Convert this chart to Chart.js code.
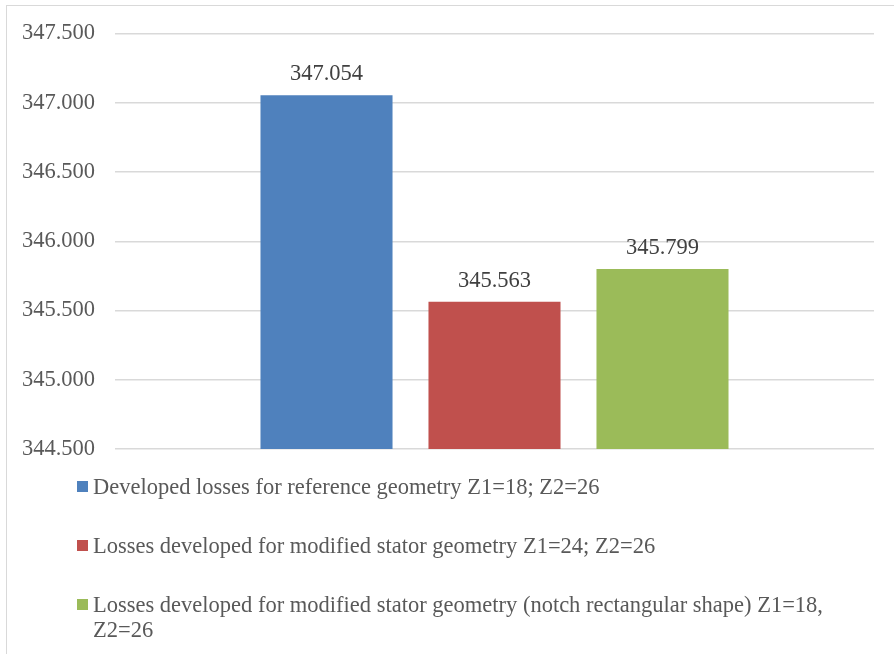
<!DOCTYPE html>
<html>
<head>
<meta charset="utf-8">
<script src="https://cdn.jsdelivr.net/npm/chart.js@4/dist/chart.umd.min.js"></script>
<style>
  html, body { margin: 0; padding: 0; background: #fff; }
  #wrap { position: relative; width: 894px; height: 654px; overflow: hidden; }
  #frame { position: absolute; left: 6px; top: 5px; width: 1000px; height: 1000px;
           border: 1.5px solid #d9d9d9; box-sizing: border-box; }
  #chart { position: absolute; left: 0; top: 0; }
  #legend { position: absolute; left: 77px; top: 474px; width: 775px;
            font-family: 'Liberation Serif', 'Times New Roman', serif; font-size: 22.5px; color: #595959; }
  #legend .item { display: flex; align-items: flex-start; margin-bottom: 34px; line-height: 25px; }
  #legend .box { width: 11px; height: 11px; flex: none; margin: 7px 5px 0 0; }
</style>
</head>
<body>
<div id="wrap">
  <div id="frame"></div>
  <canvas id="chart" width="894" height="654"></canvas>
  <div id="legend"></div>
</div>
<script>
const seriesNames = [
  'Developed losses for reference geometry Z1=18; Z2=26',
  'Losses developed for modified stator geometry Z1=24; Z2=26',
  'Losses developed for modified stator geometry (notch rectangular shape) Z1=18, Z2=26'
];
const seriesValues = [347.054, 345.563, 345.799];
const seriesColors = ['#4f81bd', '#c0504d', '#9bbb59'];
const yMin = 344.5, yMax = 347.5, yStep = 0.5;

const font = "'Liberation Serif', 'Times New Roman', serif";

// value above each bar
const valueLabels = {
  id: 'valueLabels',
  afterDatasetsDraw(chart) {
    const ctx = chart.ctx;
    ctx.save();
    ctx.font = '22.5px ' + font;
    ctx.fillStyle = '#404040';
    ctx.textAlign = 'center';
    ctx.textBaseline = 'alphabetic';
    chart.data.datasets.forEach((ds, i) => {
      chart.getDatasetMeta(i).data.forEach((bar, j) => {
        ctx.fillText(ds.data[j].toFixed(3), bar.x, bar.y - 15);
      });
    });
    ctx.restore();
  }
};

// html legend so long labels can wrap
const htmlLegend = {
  id: 'htmlLegend',
  afterUpdate(chart) {
    const el = document.getElementById('legend');
    el.innerHTML = '';
    chart.data.datasets.forEach(ds => {
      const item = document.createElement('div');
      item.className = 'item';
      const box = document.createElement('span');
      box.className = 'box';
      box.style.background = ds.backgroundColor;
      const txt = document.createElement('span');
      txt.textContent = ds.label;
      item.appendChild(box);
      item.appendChild(txt);
      el.appendChild(item);
    });
  }
};

new Chart(document.getElementById('chart'), {
  type: 'bar',
  data: {
    labels: [''],
    datasets: seriesNames.map((name, i) => ({
      label: name,
      data: [seriesValues[i]],
      backgroundColor: seriesColors[i],
      categoryPercentage: 0.664,
      barPercentage: 0.786
    }))
  },
  options: {
    responsive: false,
    animation: false,
    layout: { padding: { left: 0, right: 20, top: 33, bottom: 205 } },
    plugins: { legend: { display: false }, tooltip: { enabled: false } },
    scales: {
      x: { display: false },
      y: {
        min: yMin, max: yMax,
        afterFit(scale) { scale.width = 115; },
        ticks: {
          stepSize: yStep,
          padding: 20,
          color: '#595959',
          font: { family: font, size: 22.5 },
          callback: v => Number(v).toFixed(3)
        },
        grid: { color: '#d9d9d9', lineWidth: 1.5, drawTicks: false },
        border: { display: false }
      }
    }
  },
  plugins: [valueLabels, htmlLegend]
});
</script>
</body>
</html>
